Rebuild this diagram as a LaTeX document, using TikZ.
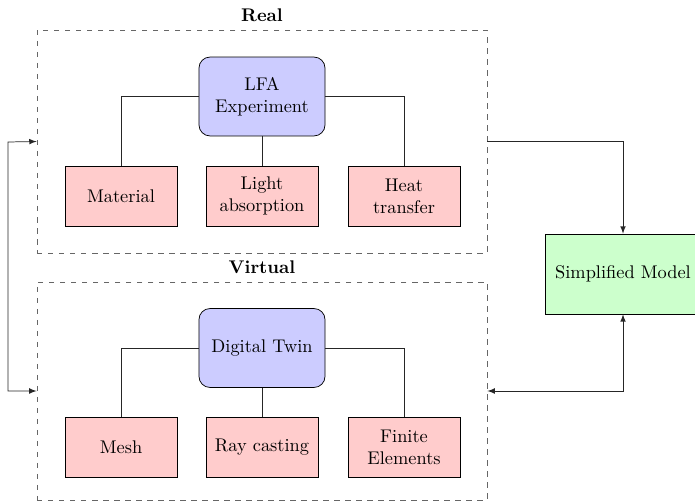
\documentclass[tikz,border=0pt]{standalone}
\usetikzlibrary{arrows}
\begin{document}
\begin{tikzpicture}[x=0.545pt,y=-0.545pt,
  grp/.style={draw=black!60,dashed,inner sep=0pt,minimum width=245.3pt},
  mainbox/.style={draw,rounded corners=6pt,fill=blue!20,minimum width=68.7pt,minimum height=43pt,align=center},
  subbox/.style={draw,fill=red!20,minimum width=61pt,minimum height=32.7pt,align=center},
  simbox/.style={draw,fill=green!20,minimum width=85pt,minimum height=43.6pt},
  grplabel/.style={font=\bfseries},
  conn/.style={draw=black!85},
  arr/.style={draw=black!85,-latex},
  darr/.style={draw=black!85,latex-latex}]
\useasboundingbox (0,0) rectangle (695,504);
\node[grp,minimum height=121.5pt] (real) at (262,141.5) {};
\node[grp,minimum height=118.8pt] (virt) at (262,391) {};
\node[grplabel] (reallab) at (262,15) {Real};
\node[grplabel] (virtlab) at (262,267) {Virtual};
\node[mainbox] (lfa) at (262,96.5) {LFA\\Experiment};
\node[subbox] (mat) at (121,196) {Material};
\node[subbox] (light) at (262,196) {Light\\absorption};
\node[subbox] (heat) at (404,196) {Heat\\transfer};
\node[mainbox] (dt) at (262,348) {Digital Twin};
\node[subbox] (mesh) at (121,447) {Mesh};
\node[subbox] (ray) at (262,447) {Ray casting};
\node[subbox] (fe) at (404,447) {Finite\\Elements};
\node[simbox] (sim) at (623,274) {Simplified Model};
\draw[conn] (lfa.west) -| (mat.north);
\draw[conn] (lfa.south) -- (light.north);
\draw[conn] (lfa.east) -| (heat.north);
\draw[conn] (dt.west) -| (mesh.north);
\draw[conn] (dt.south) -- (ray.north);
\draw[conn] (dt.east) -| (fe.north);
\draw[arr] (real.east) -| (sim.north);
\draw[darr] (sim.south) |- (virt.east);
\coordinate (lc) at (8,142);
\draw[darr] (real.west) -- (lc) |- (virt.west);
\end{tikzpicture}
\end{document}
